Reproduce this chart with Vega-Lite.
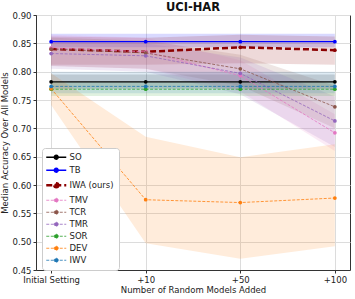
{
  "$schema": "https://vega.github.io/schema/vega-lite/v6.json",
  "width": 314,
  "height": 255,
  "autosize": "none",
  "padding": {"left": 36, "top": 15, "right": 5, "bottom": 29},
  "config": {
    "font": "DejaVu Sans",
    "view": {"stroke": "#333", "strokeWidth": 1},
    "axis": {"labelFontSize": 8.5, "titleFontSize": 8.5, "labelColor": "#222", "titleColor": "#222", "titleFontWeight": "normal", "gridColor": "#dcdcdc", "domainColor": "#333", "tickColor": "#333", "tickSize": 3}
  },
  "title": {"text": "UCI-HAR", "fontSize": 11.5, "fontWeight": "bold", "offset": -2, "color": "#111"},
  "data": {"values": [
    {"s": "Initial Setting", "m": "SO", "y": 0.782, "lo": 0.770, "hi": 0.795},
    {"s": "+10", "m": "SO", "y": 0.782, "lo": 0.770, "hi": 0.795},
    {"s": "+50", "m": "SO", "y": 0.782, "lo": 0.770, "hi": 0.795},
    {"s": "+100", "m": "SO", "y": 0.782, "lo": 0.770, "hi": 0.795},
    {"s": "Initial Setting", "m": "TB", "y": 0.853, "lo": 0.843, "hi": 0.867},
    {"s": "+10", "m": "TB", "y": 0.853, "lo": 0.843, "hi": 0.867},
    {"s": "+50", "m": "TB", "y": 0.853, "lo": 0.843, "hi": 0.867},
    {"s": "+100", "m": "TB", "y": 0.853, "lo": 0.843, "hi": 0.867},
    {"s": "Initial Setting", "m": "IWA (ours)", "y": 0.840, "lo": 0.812, "hi": 0.862},
    {"s": "+10", "m": "IWA (ours)", "y": 0.835, "lo": 0.812, "hi": 0.860},
    {"s": "+50", "m": "IWA (ours)", "y": 0.843, "lo": 0.815, "hi": 0.865},
    {"s": "+100", "m": "IWA (ours)", "y": 0.838, "lo": 0.812, "hi": 0.862},
    {"s": "Initial Setting", "m": "TMV", "y": 0.842, "lo": 0.810, "hi": 0.865},
    {"s": "+10", "m": "TMV", "y": 0.835, "lo": 0.805, "hi": 0.860},
    {"s": "+50", "m": "TMV", "y": 0.793, "lo": 0.765, "hi": 0.820},
    {"s": "+100", "m": "TMV", "y": 0.692, "lo": 0.660, "hi": 0.725},
    {"s": "Initial Setting", "m": "TCR", "y": 0.840, "lo": 0.810, "hi": 0.860},
    {"s": "+10", "m": "TCR", "y": 0.833, "lo": 0.805, "hi": 0.855},
    {"s": "+50", "m": "TCR", "y": 0.805, "lo": 0.775, "hi": 0.830},
    {"s": "+100", "m": "TCR", "y": 0.738, "lo": 0.700, "hi": 0.775},
    {"s": "Initial Setting", "m": "TMR", "y": 0.832, "lo": 0.805, "hi": 0.855},
    {"s": "+10", "m": "TMR", "y": 0.828, "lo": 0.800, "hi": 0.850},
    {"s": "+50", "m": "TMR", "y": 0.797, "lo": 0.760, "hi": 0.825},
    {"s": "+100", "m": "TMR", "y": 0.713, "lo": 0.667, "hi": 0.756},
    {"s": "Initial Setting", "m": "SOR", "y": 0.769, "lo": 0.757, "hi": 0.782},
    {"s": "+10", "m": "SOR", "y": 0.769, "lo": 0.757, "hi": 0.782},
    {"s": "+50", "m": "SOR", "y": 0.769, "lo": 0.757, "hi": 0.782},
    {"s": "+100", "m": "SOR", "y": 0.769, "lo": 0.757, "hi": 0.782},
    {"s": "Initial Setting", "m": "DEV", "y": 0.770, "lo": 0.741, "hi": 0.797},
    {"s": "+10", "m": "DEV", "y": 0.574, "lo": 0.497, "hi": 0.685},
    {"s": "+50", "m": "DEV", "y": 0.569, "lo": 0.470, "hi": 0.649},
    {"s": "+100", "m": "DEV", "y": 0.577, "lo": 0.492, "hi": 0.672},
    {"s": "Initial Setting", "m": "IWV", "y": 0.774, "lo": 0.762, "hi": 0.800},
    {"s": "+10", "m": "IWV", "y": 0.774, "lo": 0.762, "hi": 0.800},
    {"s": "+50", "m": "IWV", "y": 0.774, "lo": 0.762, "hi": 0.800},
    {"s": "+100", "m": "IWV", "y": 0.774, "lo": 0.762, "hi": 0.800}
  ]},
  "encoding": {
    "x": {"field": "s", "type": "ordinal", "sort": ["Initial Setting", "+10", "+50", "+100"],
      "scale": {"type": "point", "padding": 0.16},
      "axis": {"labelAngle": 0, "grid": true, "title": "Number of Random Models Added", "titlePadding": 2}}
  },
  "layer": [
    {
      "mark": {"type": "area", "opacity": 0.15},
      "encoding": {
        "y": {"field": "lo", "type": "quantitative", "scale": {"domain": [0.45, 0.9], "nice": false, "zero": false},
          "axis": {"values": [0.45, 0.5, 0.55, 0.6, 0.65, 0.7, 0.75, 0.8, 0.85, 0.9], "format": ".2f", "labelOverlap": false, "labelFlush": false, "title": "Median Accuracy Over All Models", "titlePadding": 3}},
        "y2": {"field": "hi"},
        "fill": {"field": "m", "type": "nominal", "legend": null,
          "scale": {"domain": ["IWV", "DEV", "SOR", "TMR", "TCR", "TMV", "IWA (ours)", "TB", "SO"],
            "range": ["#1f77b4", "#ff7f0e", "#2ca02c", "#9467bd", "#8c564b", "#e377c2", "#8b0000", "#0000ff", "#000000"]}}
      }
    },
    {
      "mark": {"type": "line"},
      "encoding": {
        "y": {"field": "y", "type": "quantitative",
          "axis": {"values": [0.45, 0.5, 0.55, 0.6, 0.65, 0.7, 0.75, 0.8, 0.85, 0.9], "format": ".2f", "labelOverlap": false, "labelFlush": false, "title": "Median Accuracy Over All Models", "titlePadding": 3}},
        "color": {"field": "m", "type": "nominal",
          "scale": {"domain": ["SO", "TB", "IWA (ours)", "TMV", "TCR", "TMR", "SOR", "DEV", "IWV"],
            "range": ["#000000", "#0000ff", "#8b0000", "#e377c2", "#8c564b", "#9467bd", "#2ca02c", "#ff7f0e", "#1f77b4"]},
          "legend": {"title": null, "orient": "none", "legendX": 6, "legendY": 133, "labelFontSize": 8.5, "labelColor": "#222",
            "symbolType": "M-1,0L3,0M1.4,0A0.4,0.4 0 1 1 0.6,0A0.4,0.4 0 1 1 1.4,0", "symbolSize": 100, "labelOffset": 14,
            "fillColor": "white", "strokeColor": "#ccc", "cornerRadius": 3, "padding": 5, "rowPadding": 3,
            "encode": {"symbols": {"update": {
              "fill": {"scale": "color", "field": "value"},
              "strokeWidth": {"signal": "datum.value === 'IWA (ours)' ? 2.5 : (datum.value === 'SO' || datum.value === 'TB' ? 1.3 : 0.8)"},
              "strokeDash": {"signal": "datum.value === 'SO' || datum.value === 'TB' ? [1,0] : (datum.value === 'IWA (ours)' ? [6,3] : [3,1.5])"}
            }}}}},
        "strokeDash": {"condition": [
            {"test": "datum.m === 'SO' || datum.m === 'TB'", "value": [1, 0]},
            {"test": "datum.m === 'IWA (ours)'", "value": [6, 3]}
          ], "value": [3, 1.5]},
        "strokeWidth": {"condition": [
            {"test": "datum.m === 'SO' || datum.m === 'TB'", "value": 1.3},
            {"test": "datum.m === 'IWA (ours)'", "value": 2.5}
          ], "value": 0.8}
      }
    },
    {
      "mark": {"type": "point", "filled": true, "size": 14, "opacity": 1},
      "encoding": {
        "y": {"field": "y", "type": "quantitative",
          "axis": {"values": [0.45, 0.5, 0.55, 0.6, 0.65, 0.7, 0.75, 0.8, 0.85, 0.9], "format": ".2f", "labelOverlap": false, "labelFlush": false, "title": "Median Accuracy Over All Models", "titlePadding": 3}},
        "fill": {"field": "m", "type": "nominal", "legend": null}
      }
    }
  ]
}
